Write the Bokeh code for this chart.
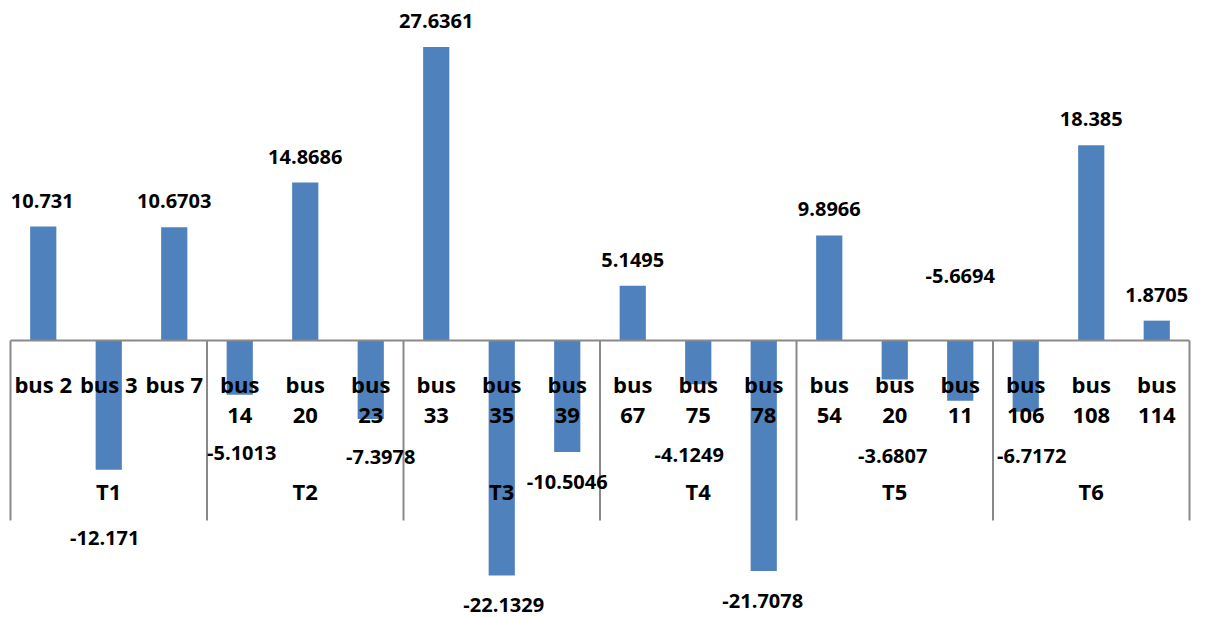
from bokeh.plotting import figure
from bokeh.models import Range1d
from bokeh.core.properties import value
from bokeh.embed import file_html
from bokeh.resources import INLINE

# ---------------- data ----------------
groups = ["T1", "T2", "T3", "T4", "T5", "T6"]
buses = ["bus 2", "bus 3", "bus 7",
         "bus 14", "bus 20", "bus 23",
         "bus 33", "bus 35", "bus 39",
         "bus 67", "bus 75", "bus 78",
         "bus 54", "bus 20", "bus 11",
         "bus 106", "bus 108", "bus 114"]
values = [10.731, -12.171, 10.6703,
          -5.1013, 14.8686, -7.3978,
          27.6361, -22.1329, -10.5046,
          5.1495, -4.1249, -21.7078,
          9.8966, -3.6807, -5.6694,
          -6.7172, 18.385, 1.8705]

# ---------------- layout (pixels) ----------------
W, H = 1207, 617
PER_GROUP = 3
N = len(buses)
LEFT_PX, UNIT_X = 10, 65.5       # left edge of category axis, px per category
ZERO_PX, UNIT_Y = 340, 10.62     # y pixel of zero line, px per value unit
x_start, x_end = -LEFT_PX / UNIT_X, (W - LEFT_PX) / UNIT_X
y_end = ZERO_PX / UNIT_Y
y_start = -(H - ZERO_PX) / UNIT_Y
PX_X = W / (x_end - x_start)
PX_Y = H / (y_end - y_start)

# label placement tweaks: distance (px) from bar end, outward; and x shift (px)
label_gap_px = [26, 68, 26, 58, 26, 38, 26, 29, 30, 26, 71, 30, 26, 76, -125, 44, 26, 26]
label_dx_px = [-1, -4, 0, 2, 0, 10, 0, 2, 0, 0, -9, -1, 0, -2, 0, 6, 0, 0]

BLUE = "#4F81BD"
GREY = "#898989"
FONT = value("Open Sans")

p = figure(width=W, height=H, output_backend="svg", toolbar_location=None,
           x_range=Range1d(x_start, x_end), y_range=Range1d(y_start, y_end),
           min_border=0)
p.axis.visible = False
p.grid.visible = False
p.outline_line_color = None
p.background_fill_color = "white"

xs = [i + 0.5 for i in range(N)]
p.vbar(x=xs, top=values, bottom=0, width=0.4, fill_color=BLUE, line_color=None)

# axis line at zero and group separators
p.segment(x0=[0], y0=[0], x1=[N], y1=[0], line_color=GREY, line_width=2)
sep_x = list(range(0, N + 1, PER_GROUP))
sep_len = 180 / PX_Y
p.segment(x0=sep_x, y0=[0] * len(sep_x), x1=sep_x, y1=[-sep_len] * len(sep_x),
          line_color=GREY, line_width=2)

# category labels (wrap when two-digit bus numbers)
line1, line2 = [], []
for b in buses:
    name, num = b.split(" ")
    if len(num) >= 2:
        line1.append(name)
        line2.append(num)
    else:
        line1.append(b)
        line2.append("")
p.text(x=xs, y=[-43 / PX_Y] * N, text=line1, text_font=FONT, text_font_style="bold",
       text_font_size="22px", text_align="center", text_baseline="middle", text_color="black")
p.text(x=xs, y=[-75 / PX_Y] * N, text=line2, text_font=FONT, text_font_style="bold",
       text_font_size="22px", text_align="center", text_baseline="middle", text_color="black")

# group labels
gx = [g * PER_GROUP + PER_GROUP / 2 for g in range(len(groups))]
p.text(x=gx, y=[-150 / PX_Y] * len(groups), text=groups, text_font=FONT,
       text_font_style="bold", text_font_size="22px", text_align="center",
       text_baseline="middle", text_color="black")

# data labels
lx, ly, lt = [], [], []
for i, v in enumerate(values):
    sign = 1 if v >= 0 else -1
    lx.append(xs[i] + label_dx_px[i] / PX_X)
    ly.append(v + sign * label_gap_px[i] / PX_Y)
    lt.append(str(v))
p.text(x=lx, y=ly, text=lt, text_font=FONT, text_font_style="bold",
       text_font_size="20px", text_align="center", text_baseline="middle", text_color="black")

open("out.html", "w").write(file_html(p, INLINE))
